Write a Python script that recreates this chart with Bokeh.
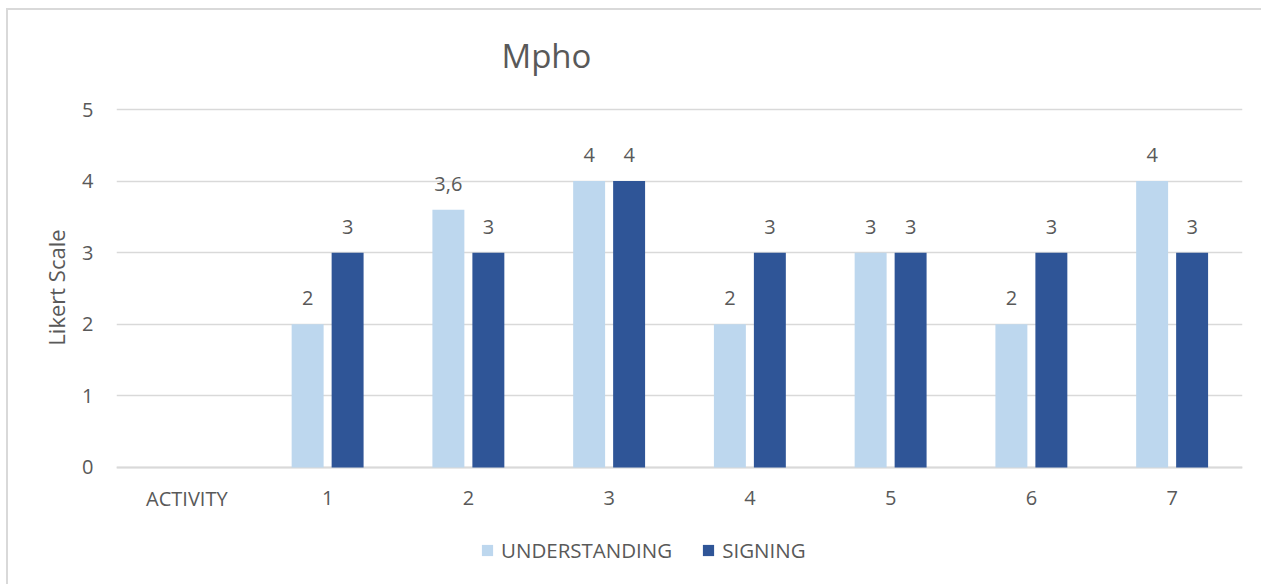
from bokeh.plotting import figure
from bokeh.models import FactorRange, Range1d, Legend, LegendItem, ColumnDataSource, FixedTicker, Label
from bokeh.core.properties import value
from bokeh.transform import dodge
from bokeh.embed import file_html
from bokeh.resources import INLINE

# Activity categories (the first slot is the axis caption, with no bars)
categories = ["ACTIVITY", "1", "2", "3", "4", "5", "6", "7"]
activities = ["1", "2", "3", "4", "5", "6", "7"]
understanding = [2, 3.6, 4, 2, 3, 2, 4]
signing = [3, 3, 4, 3, 3, 3, 3]
y_ticks = [0, 1, 2, 3, 4, 5]

LIGHT = "#BDD7EE"
DARK = "#2F5597"
TEXT = "#595959"
GRID = "#D9D9D9"
FONT = "Open Sans"


def fmt(v):
    s = ("%g" % v)
    return s.replace(".", ",")


src = ColumnDataSource(dict(
    x=activities,
    u=understanding,
    s=signing,
    u_lab=[fmt(v) for v in understanding],
    s_lab=[fmt(v) for v in signing],
))

# plot area spans nearly the full height so the title and legend sit inside it;
# the value axis keeps 0..5 in the middle band
p = figure(
    x_range=FactorRange(*categories, range_padding=0),
    y_range=Range1d(-1.355, 6.383),
    frame_width=1126, frame_height=554,
    output_backend="svg", toolbar_location=None,
    min_border_left=108, min_border_right=19,
    min_border_top=0, min_border_bottom=20,
)
p.margin = (8, 0, 0, 6)
p.styles = {"border-left": "2px solid #D9D9D9", "border-top": "2px solid #D9D9D9"}
p.outline_line_color = None
p.background_fill_color = "white"
p.border_fill_color = "white"

# grid
p.xgrid.grid_line_color = None
p.ygrid.grid_line_color = GRID
p.ygrid.grid_line_width = 1.3
p.yaxis.ticker = FixedTicker(ticks=y_ticks)

# value axis
p.xaxis.visible = False
ax = p.yaxis
ax.axis_line_color = None
ax.major_tick_line_color = None
ax.minor_tick_line_color = None
ax.major_label_text_font = FONT
ax.major_label_text_font_size = "20px"
ax.major_label_text_color = TEXT
ax.major_label_standoff = 17
ax.axis_label = "Likert Scale"
ax.axis_label_text_font = FONT
ax.axis_label_text_font_size = "22px"
ax.axis_label_text_font_style = "normal"
ax.axis_label_text_color = TEXT
ax.axis_label_standoff = 8

# baseline
p.line(x=[0, 8], y=[0, 0], line_color=GRID, line_width=2)

# category labels under the baseline
p.text(x=categories, y=[0] * len(categories), text=categories,
       text_align="center", text_baseline="middle", y_offset=31,
       text_font_size="20px", text_color=TEXT, text_font=value(FONT))

bw = 0.227
off = 0.142
r_u = p.vbar(x=dodge("x", -off, range=p.x_range), top="u", width=bw, source=src,
             fill_color=LIGHT, line_color=None)
r_s = p.vbar(x=dodge("x", off, range=p.x_range), top="s", width=bw, source=src,
             fill_color=DARK, line_color=None)

# value labels above the bars
for col, lab, dx in (("u", "u_lab", -off), ("s", "s_lab", off)):
    p.text(x=dodge("x", dx, range=p.x_range), y=col, text=lab, source=src,
           text_align="center", text_baseline="bottom", y_offset=-19,
           text_font_size="20px", text_color=TEXT, text_font=value(FONT))

# title
p.add_layout(Label(x=2.735, y=5.755, text="Mpho", text_font=FONT,
                   text_font_size="33px", text_color=TEXT,
                   text_baseline="alphabetic", text_align="left"))

# legend
legend = Legend(items=[LegendItem(label="UNDERSTANDING", renderers=[r_u]),
                       LegendItem(label="SIGNING", renderers=[r_s])],
                orientation="horizontal", location=(364, 0),
                label_text_font=FONT, label_text_font_size="20.5px",
                label_text_color=TEXT, glyph_width=14, glyph_height=14,
                label_standoff=7, spacing=29, border_line_color=None,
                background_fill_alpha=0, padding=0, margin=0)
p.add_layout(legend, "center")

open("out.html", "w").write(file_html(p, INLINE))
